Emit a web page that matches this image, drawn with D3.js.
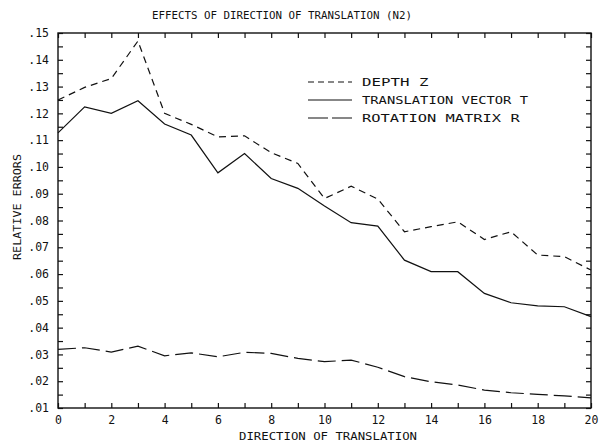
<!DOCTYPE html>
<html>
<head>
<meta charset="utf-8">
<script src="https://cdn.jsdelivr.net/npm/d3@7"></script>
<style>
  html, body { margin: 0; padding: 0; background: #fff; }
  svg { display: block; }
  text { font-family: "DejaVu Sans Mono", monospace; fill: #111; }
</style>
</head>
<body>
<svg id="chart" width="603" height="445"></svg>
<script>
// Direction index along the x axis
const directions = d3.range(0, 21);

// Relative errors for each recovered quantity
const depthZ = [0.125, 0.1297, 0.133, 0.147, 0.120, 0.1159, 0.1112, 0.1116, 0.1053, 0.1013,
                0.0882, 0.0928, 0.088, 0.0758, 0.0777, 0.0795, 0.0729, 0.0758, 0.0671, 0.0665, 0.0615];
const translationT = [0.1127, 0.1224, 0.120, 0.1247, 0.116, 0.1119, 0.0978, 0.105, 0.0957, 0.092,
                      0.0854, 0.0792, 0.0779, 0.0652, 0.0609, 0.0609, 0.0528, 0.0493, 0.0481, 0.0478, 0.0441];
const rotationR = [0.0319, 0.0325, 0.0309, 0.0331, 0.0295, 0.0306, 0.0291, 0.0308, 0.0304, 0.0285,
                   0.0273, 0.0279, 0.0252, 0.0217, 0.0198, 0.0186, 0.0167, 0.0157, 0.0151, 0.0145, 0.0138];

// Tick values
const yLabelTicks = d3.range(1, 16).map(i => i / 100);
const yMinorTicks = d3.range(2, 31).map(i => i / 200);
const xLabelTicks = d3.range(0, 21, 2);
const xMinorTicks = d3.range(0, 21, 1);

const seriesNames = ["DEPTH  Z", "TRANSLATION VECTOR T", "ROTATION  MATRIX  R"];

const svg = d3.select("#chart");
const plotL = 58, plotR = 591, plotT = 33, plotB = 408;

const x = d3.scaleLinear().domain([0, 20]).range([plotL, plotR]);
const y = d3.scaleLinear().domain([0.01, 0.15]).range([plotB, plotT]);

const fmtY = d => d3.format(".2f")(d).replace(/^0/, "");

// Inward ticks on all four sides
const g = svg.append("g");
g.append("g").attr("transform", `translate(${plotL},0)`)
  .call(d3.axisRight(y).tickValues(yMinorTicks).tickSize(5).tickFormat(""));
g.append("g").attr("transform", `translate(${plotR},0)`)
  .call(d3.axisLeft(y).tickValues(yMinorTicks).tickSize(5).tickFormat(""));
g.append("g").attr("transform", `translate(0,${plotB})`)
  .call(d3.axisTop(x).tickValues(xMinorTicks).tickSize(5).tickFormat(""));
g.append("g").attr("transform", `translate(0,${plotT})`)
  .call(d3.axisBottom(x).tickValues(xMinorTicks).tickSize(5).tickFormat(""));
g.selectAll(".domain").remove();
g.selectAll(".tick line").attr("stroke", "#111").attr("stroke-width", 1.2);

// Tick labels
const yl = svg.append("g").attr("transform", `translate(${plotL},0)`)
  .call(d3.axisLeft(y).tickValues(yLabelTicks).tickSize(0).tickPadding(9).tickFormat(fmtY));
yl.select(".domain").remove();
yl.selectAll("text").style("font-family", "DejaVu Sans Mono, monospace").style("font-size", "11.5px").attr("fill", "#111");

const xl = svg.append("g").attr("transform", `translate(0,${plotB})`)
  .call(d3.axisBottom(x).tickValues(xLabelTicks).tickSize(0).tickPadding(8).tickFormat(d3.format("d")));
xl.select(".domain").remove();
xl.selectAll("text").style("font-family", "DejaVu Sans Mono, monospace").style("font-size", "11.5px").attr("fill", "#111");

// Frame
svg.append("rect")
  .attr("x", plotL).attr("y", plotT)
  .attr("width", plotR - plotL).attr("height", plotB - plotT)
  .attr("fill", "none").attr("stroke", "#111").attr("stroke-width", 1.4);

// Series lines
const line = vals => d3.line().x((d, i) => x(directions[i])).y(d => y(d))(vals);
const styles = [
  { data: depthZ, dash: "7,5" },
  { data: translationT, dash: null },
  { data: rotationR, dash: "18,6" }
];
styles.forEach(s => {
  svg.append("path")
    .attr("d", line(s.data))
    .attr("fill", "none")
    .attr("stroke", "#111")
    .attr("stroke-width", 1.2)
    .attr("stroke-dasharray", s.dash);
});

// Legend
const legY = [82, 100, 118];
styles.forEach((s, i) => {
  svg.append("line")
    .attr("x1", 308).attr("x2", 352)
    .attr("y1", legY[i]).attr("y2", legY[i])
    .attr("stroke", "#111").attr("stroke-width", 1.2)
    .attr("stroke-dasharray", i === 0 ? "6,4" : (i === 2 ? "20,4" : null));
  svg.append("text")
    .attr("x", 362).attr("y", legY[i] + 4)
    .style("font-size", "11px")
    .attr("textLength", seriesNames[i].length * 8.3)
    .attr("lengthAdjust", "spacingAndGlyphs")
    .text(seriesNames[i]);
});

// Title and axis titles
svg.append("text")
  .attr("x", 282).attr("y", 19)
  .attr("text-anchor", "middle")
  .style("font-size", "11px")
  .attr("textLength", 260).attr("lengthAdjust", "spacingAndGlyphs")
  .text("EFFECTS OF DIRECTION OF TRANSLATION (N2)");

svg.append("text")
  .attr("x", 328).attr("y", 440)
  .attr("text-anchor", "middle")
  .style("font-size", "11px")
  .attr("textLength", 178).attr("lengthAdjust", "spacingAndGlyphs")
  .text("DIRECTION OF TRANSLATION");

svg.append("text")
  .attr("transform", "translate(21,207) rotate(-90)")
  .attr("text-anchor", "middle")
  .style("font-size", "11px")
  .attr("textLength", 106).attr("lengthAdjust", "spacingAndGlyphs")
  .text("RELATIVE ERRORS");
</script>
</body>
</html>
